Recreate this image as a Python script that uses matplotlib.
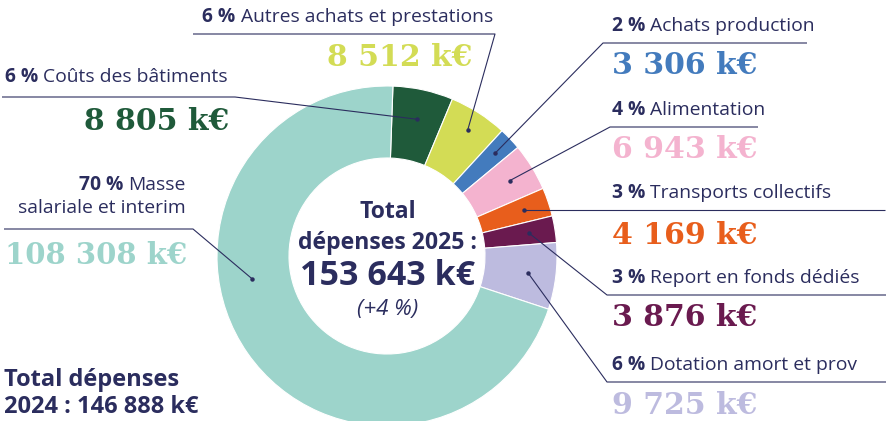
import matplotlib
matplotlib.use("Agg")
import matplotlib.pyplot as plt
import numpy as np

# --- data (k€), clockwise from top ---
categories = [
    "Coûts des bâtiments",
    "Autres achats et prestations",
    "Achats production",
    "Alimentation",
    "Transports collectifs",
    "Report en fonds dédiés",
    "Dotation amort et prov",
    "Masse salariale et interim",
]
values = [8805, 8512, 3306, 6943, 4169, 3876, 9725, 108308]
percents = ["6 %", "6 %", "2 %", "4 %", "3 %", "3 %", "6 %", "70 %"]
value_labels = ["8 805 k€", "8 512 k€", "3 306 k€", "6 943 k€", "4 169 k€",
                "3 876 k€", "9 725 k€", "108 308 k€"]
colors = ["#1f5a3a", "#d3dc55", "#437bbd", "#f4b3cf", "#e85e1c",
          "#6a1a4f", "#bdbbdf", "#9dd4cb"]
total_2025 = "153 643 k€"
growth = "(+4 %)"
total_2024 = "2024 : 146 888 k€"

NAVY = "#2b2d5e"
LABEL_FONT = ["Open Sans", "DejaVu Sans"]
VALUE_FONT = ["DejaVu Serif"]
LSIZE = 13.9

W, H = 887, 421
fig = plt.figure(figsize=(W / 100, H / 100), dpi=100)
ax = fig.add_axes([0, 0, 1, 1])

cx, cy, R, ring = 387, 256, 170, 72
start = -88  # y axis is flipped, so this is "just right of top", going clockwise
ax.pie(values, colors=colors, center=(cx, cy), radius=R, startangle=start,
       counterclock=True,
       wedgeprops={"width": ring, "edgecolor": "white", "linewidth": 0.8})
ax.set_xlim(0, W)
ax.set_ylim(H, 0)
ax.set_aspect("equal")
ax.axis("off")

# dot position inside each wedge: fraction along the wedge, radius
tot = sum(values)
cum = np.concatenate([[0], np.cumsum(values)])
dot_frac = [0.5, 0.5, 0.5, 0.5, 0.5, 0.5, 0.5, 0.6]
dot_r = [140, 150, 149, 144, 145, 144, 142, 137]
dots = []
for i in range(len(values)):
    a = np.deg2rad(start + 360 * (cum[i] + dot_frac[i] * values[i]) / tot)
    dots.append((cx + dot_r[i] * np.cos(a), cy + dot_r[i] * np.sin(a)))

# leader line paths: from dot through elbow then along the horizontal
paths = [
    [(235, 97), (2, 97)],
    [(495, 34), (193, 34)],
    [(603, 43), (807, 43)],
    [(610, 127), (758, 127)],
    [(885, None)],
    [(607, 295), (887, 295)],
    [(607, 382), (887, 382)],
    [(193, 229), (4, 229)],
]
for (dx, dy), pts in zip(dots, paths):
    xs, ys = [dx], [dy]
    for px, py in pts:
        xs.append(px)
        ys.append(dy if py is None else py)
    ax.plot(xs, ys, color=NAVY, linewidth=0.8, solid_capstyle="butt")
    ax.plot(dx, dy, "o", color=NAVY, markersize=2.2)

fig.canvas.draw()
renderer = fig.canvas.get_renderer()
inv = ax.transData.inverted()


def two_part(x, y, bold, rest, ha="left", size=LSIZE):
    """'6 %' in bold followed by the plain label text."""
    kw = dict(color=NAVY, family=LABEL_FONT, fontsize=size, va="center")
    if ha == "left":
        t = ax.text(x, y, bold + " ", ha="left", weight="bold", **kw)
        bb = t.get_window_extent(renderer)
        x1 = inv.transform((bb.x1, 0))[0]
        ax.text(x1, y, rest, ha="left", **kw)
    else:
        t = ax.text(x, y, rest, ha="right", **kw)
        bb = t.get_window_extent(renderer)
        x0 = inv.transform((bb.x0, 0))[0]
        ax.text(x0, y, bold + " ", ha="right", weight="bold", **kw)


def value(x, y, txt, color, ha="left", size=21.5):
    ax.text(x, y, txt, ha=ha, va="center", color=color, family=VALUE_FONT,
            fontsize=size, weight="bold")


# left / top labels
two_part(5, 77, percents[0], categories[0])
value(229, 121, value_labels[0], colors[0], ha="right")
two_part(493, 17, percents[1], categories[1], ha="right")
value(472, 58, value_labels[1], colors[1], ha="right")
two_part(186, 185, percents[7], "Masse", ha="right")
ax.text(186, 208, "salariale et interim", ha="right", va="center", color=NAVY,
        family=LABEL_FONT, fontsize=LSIZE)
value(5, 255, value_labels[7], colors[7], size=21)

# right labels
right_y = [(26, 66), (110, 150), (193, 235), (278, 317), (365, 405)]
for i, (ly, vy) in zip(range(2, 7), right_y):
    two_part(612, ly, percents[i], categories[i])
    value(612, vy, value_labels[i], colors[i])

# centre
ax.text(cx + 1, 212, "Total", ha="center", va="center", color=NAVY,
        family=LABEL_FONT, fontsize=16.6, weight="bold")
ax.text(cx + 1, 243, "dépenses 2025 :", ha="center", va="center", color=NAVY,
        family=LABEL_FONT, fontsize=16.6, weight="bold")
ax.text(cx + 1, 276, total_2025, ha="center", va="center", color=NAVY,
        family=LABEL_FONT, fontsize=24.5, weight="bold")
ax.text(cx + 1, 309, growth, ha="center", va="center", color=NAVY,
        family=LABEL_FONT, fontsize=16, style="italic")

# bottom left
ax.text(4, 380, "Total dépenses", ha="left", va="center", color=NAVY,
        family=LABEL_FONT, fontsize=17, weight="bold")
ax.text(4, 407, total_2024, ha="left", va="center", color=NAVY,
        family=LABEL_FONT, fontsize=17, weight="bold")

fig.savefig("out.png", dpi=100)
